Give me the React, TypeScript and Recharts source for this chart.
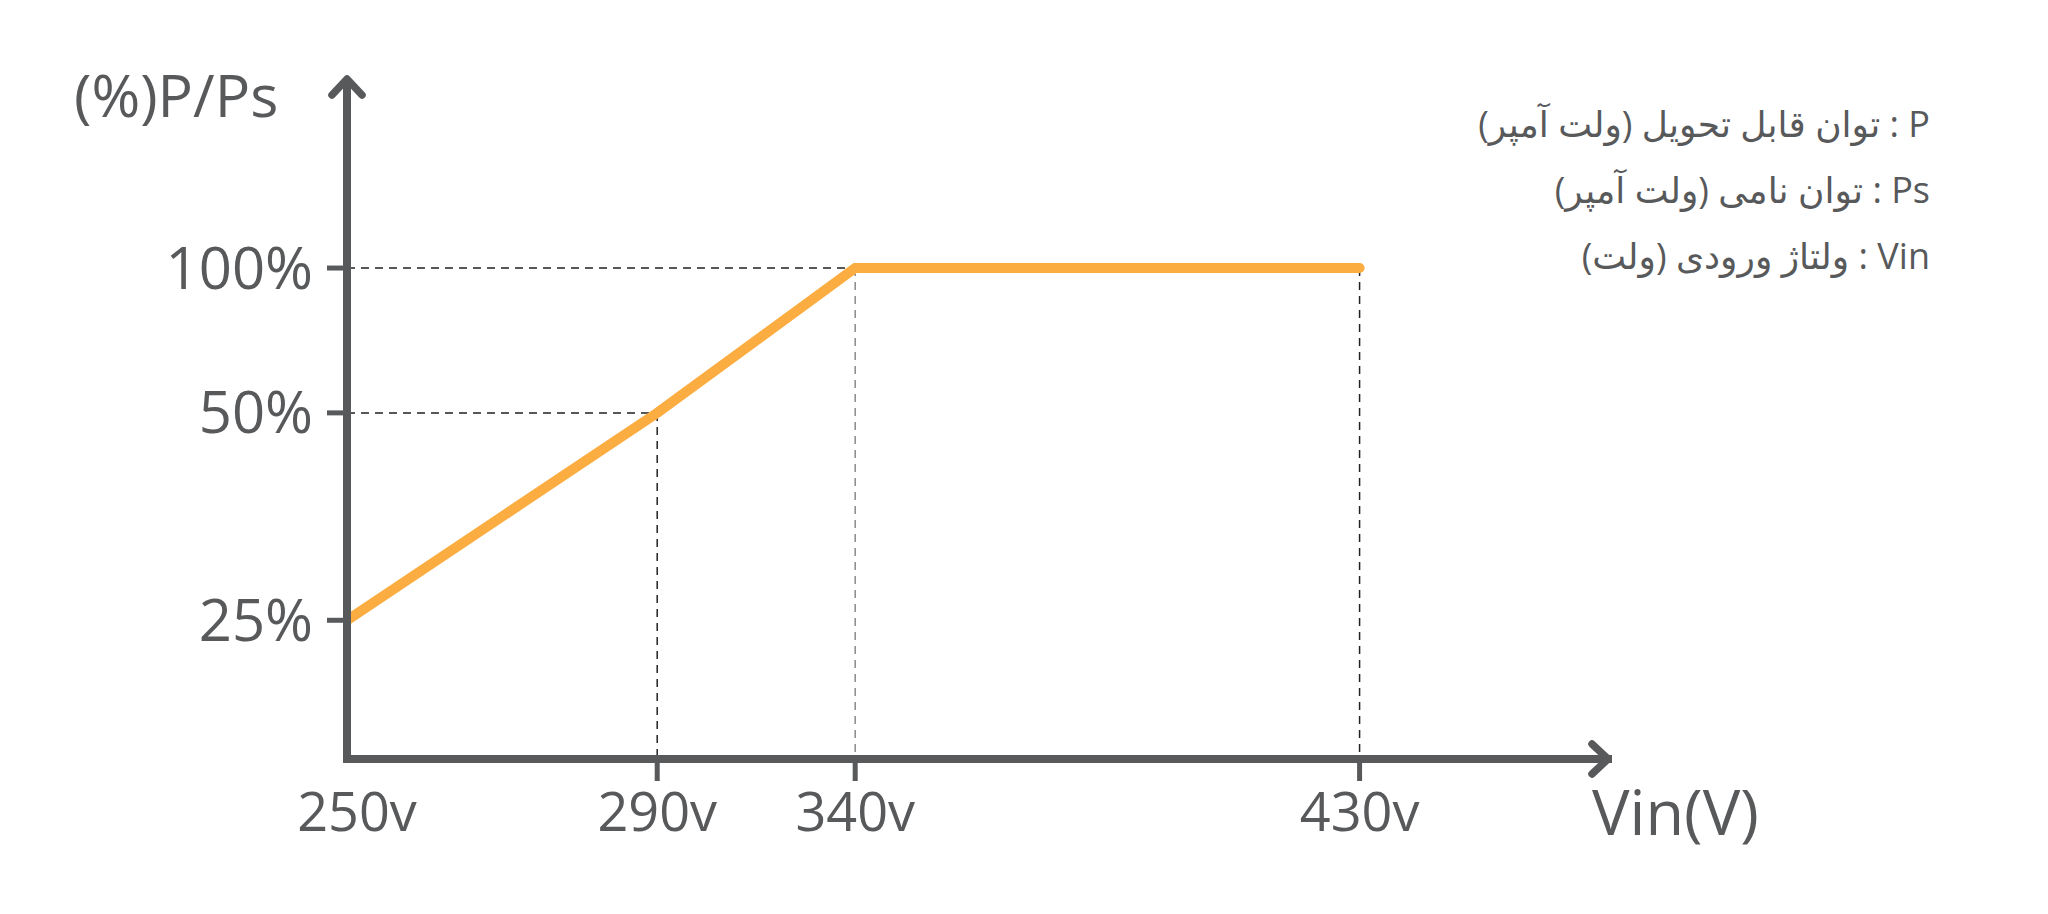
import React from "react";
import { LineChart, Line, XAxis, YAxis, ReferenceLine } from "recharts";

// values
const voltages = [250, 290, 340, 430];
const powerPct = [25, 50, 100, 100];
const xTickLabels = ["250v", "290v", "340v", "430v"];
const yTicks = [25, 50, 100];
const yTickLabels = ["25%", "50%", "100%"];
const legendLines = [
  "P : توان قابل تحویل (ولت آمپر)",
  "Ps : توان نامی (ولت آمپر)",
  "Vin : ولتاژ ورودی (ولت)",
];

const data = voltages.map((v, i) => ({ vin: v, p: powerPct[i] }));

const GRAY = "#58595B";
const ORANGE = "#FBAD41";
const FONT = "'Open Sans', 'DejaVu Sans', sans-serif";

// the drawing is schematic, not to scale: piecewise-linear axes
function schematicScale(stops: number[], fracs: number[]): any {
  let dom = [stops[0], stops[stops.length - 1]];
  let rng = [0, 1];
  const scale: any = (v: number) => {
    let i = 0;
    while (i < stops.length - 2 && v > stops[i + 1]) i++;
    const t = (v - stops[i]) / (stops[i + 1] - stops[i]);
    const f = fracs[i] + t * (fracs[i + 1] - fracs[i]);
    return rng[0] + f * (rng[1] - rng[0]);
  };
  scale.domain = (d?: number[]) => {
    if (d === undefined) return dom.slice();
    dom = d.slice();
    return scale;
  };
  scale.range = (r?: number[]) => {
    if (r === undefined) return rng.slice();
    rng = r.slice();
    return scale;
  };
  scale.copy = () => schematicScale(stops, fracs).domain(dom).range(rng);
  scale.ticks = () => stops.slice();
  return scale;
}

const xScale = schematicScale([250, 290, 340, 430, 480], [0, 0.246, 0.403, 0.803, 1]);
const yScale = schematicScale([0, 25, 50, 100, 130], [0, 0.204, 0.509, 0.722, 1]);

function XTick(props: any) {
  const { x, y, payload, index } = props;
  const i = voltages.indexOf(payload.value);
  return (
    <g>
      {index > 0 && (
        <line x1={x} x2={x} y1={y - 34} y2={y - 12} stroke={GRAY} strokeWidth={5} />
      )}
      <text
        x={x + (index === 0 ? 10 : 0)}
        y={y}
        dy="0.71em"
        textAnchor="middle"
        fill={GRAY}
        fontSize={54}
        fontFamily={FONT}
      >
        {xTickLabels[i]}
      </text>
    </g>
  );
}

export default function App() {
  return (
    <div style={{ position: "absolute", left: 0, top: 0, width: 2048, height: 914, background: "#fff" }}>
      <LineChart
        width={2048}
        height={914}
        data={data}
        margin={{ top: 79, right: 440, bottom: 75, left: 247 }}
      >
        <defs>
          <marker
            id="arrowHead"
            viewBox="-22 -20 26 40"
            refX={0}
            refY={0}
            markerWidth={26}
            markerHeight={40}
            markerUnits="userSpaceOnUse"
            orient="auto-start-reverse"
            style={{ overflow: "visible" }}
          >
            <path
              d="M-16,-15 L0,0 L-16,15"
              fill="none"
              stroke={GRAY}
              strokeWidth={7.5}
              strokeLinecap="round"
              strokeLinejoin="round"
            />
          </marker>
        </defs>
        <XAxis
          dataKey="vin"
          type="number"
          scale={xScale}
          domain={[250, 480]}
          allowDataOverflow
          ticks={voltages}
          height={80}
          tickSize={22}
          tickMargin={12}
          tickLine={false}
          tick={<XTick />}
          axisLine={{ stroke: GRAY, strokeWidth: 8, strokeLinecap: "square", markerEnd: "url(#arrowHead)" }}
        />
        <YAxis
          type="number"
          scale={yScale}
          domain={[0, 130]}
          allowDataOverflow
          ticks={yTicks}
          width={100}
          tickSize={20}
          tickMargin={14}
          tickFormatter={(v: number) => yTickLabels[yTicks.indexOf(v)]}
          tick={{ fill: GRAY, fontSize: 58, fontFamily: FONT }}
          tickLine={{ stroke: GRAY, strokeWidth: 5 }}
          axisLine={{ stroke: GRAY, strokeWidth: 8, markerStart: "url(#arrowHead)" }}
        />
        <ReferenceLine
          segment={[{ x: voltages[0], y: powerPct[2] }, { x: voltages[2], y: powerPct[2] }]}
          stroke="#222"
          strokeWidth={1.5}
          strokeDasharray="8 6"
        />
        <ReferenceLine
          segment={[{ x: voltages[2], y: powerPct[2] }, { x: voltages[2], y: 0 }]}
          stroke="#8a8a8a"
          strokeWidth={1.5}
          strokeDasharray="8 6"
        />
        <ReferenceLine
          segment={[{ x: voltages[0], y: powerPct[1] }, { x: voltages[1], y: powerPct[1] }]}
          stroke="#222"
          strokeWidth={1.5}
          strokeDasharray="8 6"
        />
        <ReferenceLine
          segment={[{ x: voltages[1], y: powerPct[1] }, { x: voltages[1], y: 0 }]}
          stroke="#222"
          strokeWidth={1.5}
          strokeDasharray="8 6"
        />
        <ReferenceLine
          segment={[{ x: voltages[3], y: powerPct[3] }, { x: voltages[3], y: 0 }]}
          stroke="#222"
          strokeWidth={1.5}
          strokeDasharray="8 6"
        />
        <Line
          type="linear"
          dataKey="p"
          stroke={ORANGE}
          strokeWidth={10}
          strokeLinecap="round"
          dot={false}
          activeDot={false}
          isAnimationActive={false}
        />
      </LineChart>

      <div
        style={{
          position: "absolute",
          left: 74,
          top: 65,
          fontSize: 59,
          lineHeight: 1,
          fontFamily: FONT,
          color: GRAY,
          whiteSpace: "nowrap",
        }}
      >
        (%)P/Ps
      </div>
      <div
        style={{
          position: "absolute",
          left: 1592,
          top: 779,
          fontSize: 63,
          lineHeight: 1,
          fontFamily: FONT,
          color: GRAY,
          whiteSpace: "nowrap",
        }}
      >
        Vin(V)
      </div>
      <div
        dir="rtl"
        style={{
          position: "absolute",
          right: 118,
          top: 91,
          fontSize: 36,
          lineHeight: "66px",
          fontFamily: FONT,
          color: GRAY,
          textAlign: "right",
          whiteSpace: "nowrap",
        }}
      >
        {legendLines.map((t) => (
          <div key={t}>{t}</div>
        ))}
      </div>
    </div>
  );
}
